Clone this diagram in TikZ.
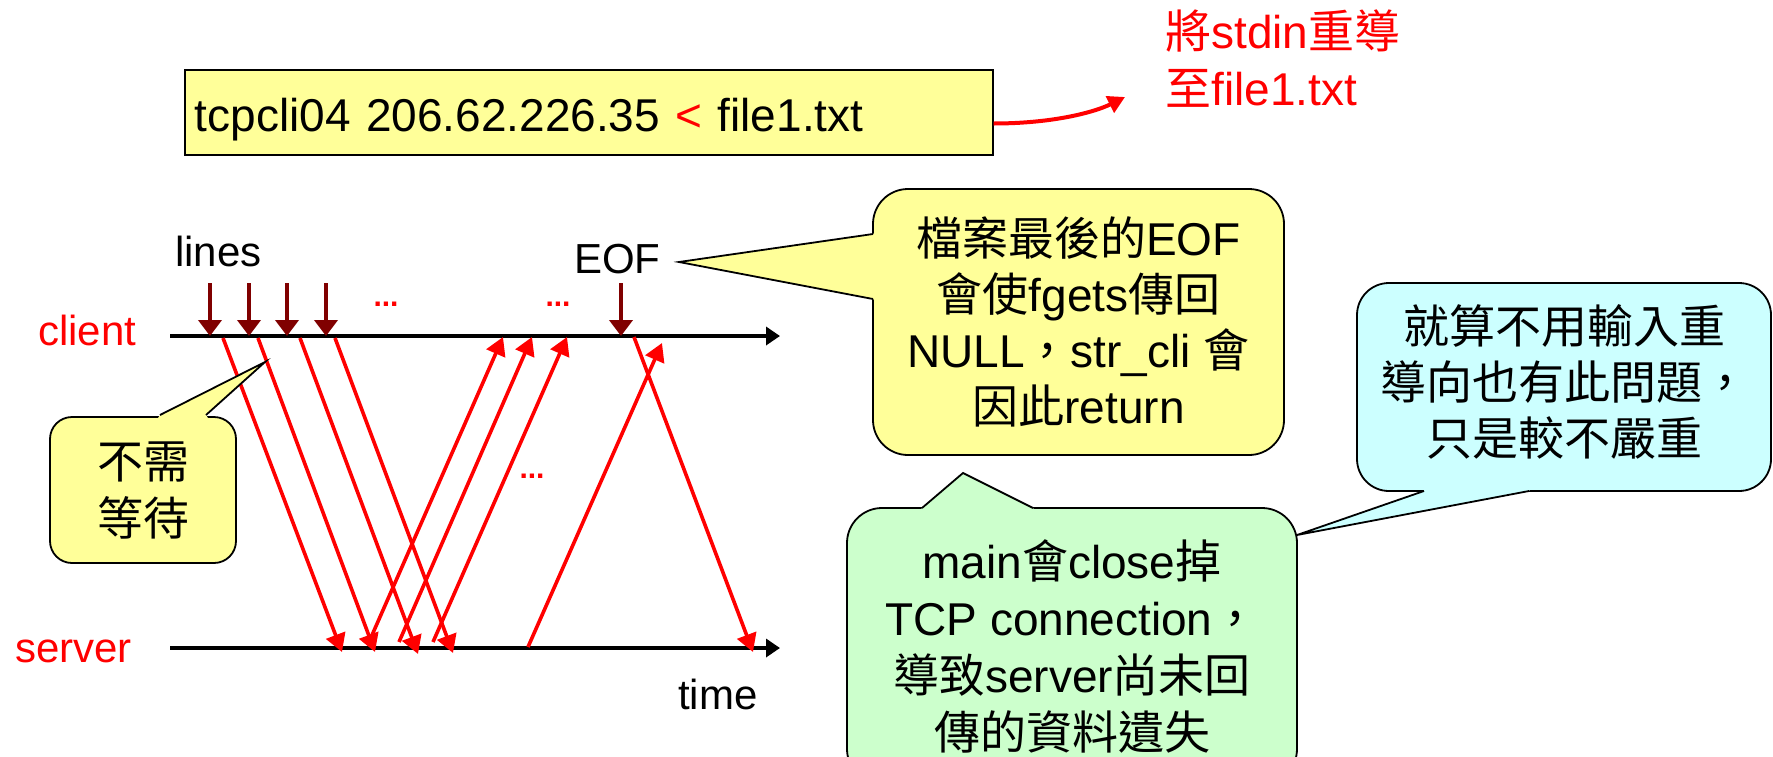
\documentclass[tikz,border=0pt]{standalone}
\usepackage{fontspec}
\setmainfont{Liberation Sans}
\newfontfamily\zhfont{Noto Sans CJK TC}
\newcommand\zh[1]{{\zhfont #1}}
\usetikzlibrary{arrows.meta}
\definecolor{noteyellow}{HTML}{FFFF99}
\definecolor{notegreen}{HTML}{CCFFCC}
\definecolor{notecyan}{HTML}{CCFFFF}
\definecolor{inputred}{HTML}{800000}
\tikzset{
  axis/.style={line width=3.5pt, -{Triangle[length=14pt,width=18pt]}},
  inputarrow/.style={inputred, line width=4.5pt, -{Triangle[length=16pt,width=23pt]}},
  msg/.style={red, line width=3.6pt, -{Triangle[length=18pt,width=20pt]}},
  lbl/.style={inner sep=0pt, anchor=base west, font=\fontsize{42pt}{50pt}\selectfont},
  dots/.style={red, inner sep=0pt, font=\bfseries\fontsize{30pt}{32pt}\selectfont},
  note/.style={draw, line width=1.8pt, align=center, inner sep=0pt,
    font=\fontsize{46pt}{56pt}\selectfont},
  ptr/.style={line width=1.8pt, line join=miter},
}
\begin{document}
\begin{tikzpicture}[x=1pt,y=-1pt]
\path[use as bounding box] (0,0) rectangle (1773,756);
\clip (0,0) rectangle (1773,756);

% command line and redirection remark
\node (cmd) [draw, line width=1.5pt, fill=noteyellow, anchor=west,
  minimum height=85pt, text width=788pt, inner xsep=10pt, inner ysep=0pt, align=left,
  text height=42pt, text depth=5pt,
  font=\fontsize{46pt}{56pt}\selectfont]
  at (184,112.5) {tcpcli04 206.62.226.35 {\color{red}<} file1.txt};
\node (redirnote) [red, anchor=north west, inner sep=0pt, align=left,
  font=\fontsize{46pt}{57pt}\selectfont]
  at (1165,10) {\zh{將}stdin\zh{重導}\\\zh{至}file1.txt};
\coordinate (redir) at (1125,97);
\draw[red, line width=4pt, -{Triangle[length=17pt,width=18pt]}]
  ([yshift=-11pt]cmd.east) .. controls +(60,0) and +(-30,15) .. (redir);

% time lines
\node (client) [lbl, red] at (38,345) {client};
\node (server) [lbl, red] at (15,662) {server};
\node (lines)  [lbl] at (175,266) {lines};
\node (eof)    [lbl] at (574,273) {EOF};
\node (time)   [lbl] at (678,709) {time};
\coordinate (c0) at (170,336);
\coordinate (c1) at (780,336);
\coordinate (s0) at (170,648);
\coordinate (s1) at (780,648);
\draw[axis] (c0) -- (c1);
\draw[axis] (s0) -- (s1);

% input lines read by the client
\foreach \x in {210,249,287,326,621}
  \draw[inputarrow] (\x,283) -- (\x,336);

\node (dA) [dots] at (386,304) {...};
\node (dB) [dots] at (558,304) {...};
\node (dC) [dots] at (532,476) {...};

% segments between client and server
\coordinate (cd1) at (223,338); \coordinate (sd1) at (342,652);
\coordinate (cd2) at (258,338); \coordinate (sd2) at (375,652);
\coordinate (cd3) at (300,338); \coordinate (sd3) at (418,654);
\coordinate (cd4) at (335,338); \coordinate (sd4) at (453,653);
\coordinate (su1) at (369,642); \coordinate (cu1) at (503,337);
\coordinate (su2) at (399,642); \coordinate (cu2) at (532,337);
\coordinate (su3) at (433,642); \coordinate (cu3) at (567,337);
\coordinate (su4) at (528,647); \coordinate (cu4) at (662,343);
\coordinate (cd5) at (634,337); \coordinate (sd5) at (753,652);
\foreach \i in {1,...,5} \draw[msg] (cd\i) -- (sd\i);
\foreach \i in {1,...,4} \draw[msg] (su\i) -- (cu\i);

% callouts
\node (nowait) [note, fill=noteyellow, rounded corners=22pt,
  minimum width=186pt, minimum height=146pt,
  font=\zhfont\fontsize{46pt}{57pt}\selectfont]
  at (143,490) {不需\\等待};
\coordinate (nowaittip) at (265,362);
\fill[noteyellow] (158,418) -- (160,415) -- (nowaittip) -- (206,415) -- (208,418) -- cycle;
\draw[ptr] (160,415) -- (nowaittip) -- (206,415);

\node (eofnote) [note, fill=noteyellow, rounded corners=35pt,
  minimum width=411pt, minimum height=266pt]
  at (1078.5,322) {\zh{檔案最後的}EOF\\\zh{會使}fgets\zh{傳回}\\NULL\zh{，}str\_cli \zh{會}\\\zh{因此}return};
\coordinate (eoftip) at (679,262);
\fill[noteyellow] (876,232) -- (873,234) -- (eoftip) -- (873,299) -- (876,301) -- cycle;
\draw[ptr] (873,234) -- (eoftip) -- (873,299);

\node (closenote) [note, fill=notegreen, rounded corners=35pt,
  minimum width=450pt, minimum height=276pt,
  font=\fontsize{46pt}{57pt}\selectfont]
  at (1072,646) {main\zh{會}close\zh{掉}\\TCP connection\zh{，}\\\zh{導致}server\zh{尚未回}\\\zh{傳的資料遺失}};
\coordinate (closetip) at (963,473);
\fill[notegreen] (920,511) -- (922,508) -- (closetip) -- (1033,508) -- (1035,511) -- cycle;
\draw[ptr] (922,508) -- (closetip) -- (1033,508);

\node (alsonote) [note, fill=notecyan, rounded corners=32pt,
  minimum width=414pt, minimum height=208pt,
  font=\zhfont\fontsize{46pt}{56pt}\selectfont,
  text height=142pt, text depth=6pt]
  at (1564,387) {就算不用輸入重\\導向也有此問題，\\只是較不嚴重};
\coordinate (alsotip) at (1297,535);
\fill[notecyan] (1422,488) -- (1424,491) -- (alsotip) -- (1529,491) -- (1531,488) -- cycle;
\draw[ptr] (1424,491) -- (alsotip) -- (1529,491);
\end{tikzpicture}
\end{document}
